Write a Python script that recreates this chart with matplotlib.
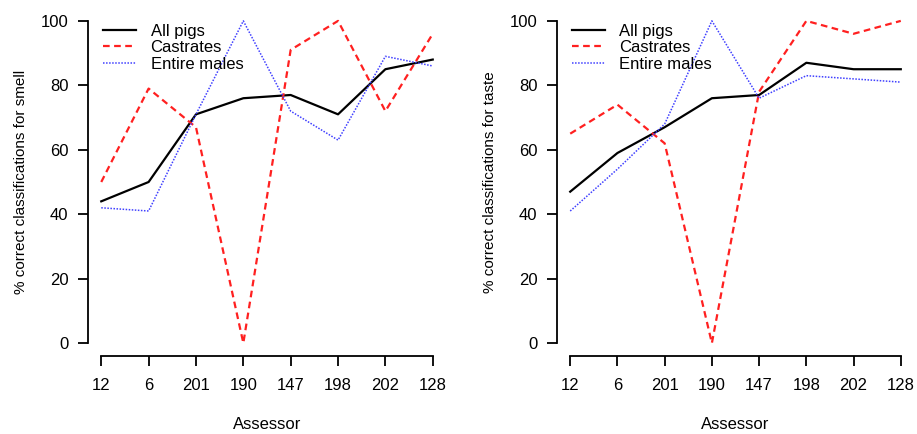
import matplotlib.pyplot as plt

plt.rcParams['font.family'] = ['Liberation Sans', 'DejaVu Sans']

assessors = ["12", "6", "201", "190", "147", "198", "202", "128"]

# smell
smell_all = [44, 50, 71, 76, 77, 71, 85, 88]
smell_castrates = [50, 79, 67, 0, 91, 100, 72, 96]
smell_entire = [42, 41, 71, 100, 72, 63, 89, 86]

# taste
taste_all = [47, 59, 67, 76, 77, 87, 85, 85]
taste_castrates = [65, 74, 62, 0, 78, 100, 96, 100]
taste_entire = [41, 54, 68, 100, 76, 83, 82, 81]


def draw_panel(ax, all_pigs, castrates, entire, ylabel):
  x = range(len(assessors))
  ax.plot(x, all_pigs, color="black", lw=1.6, label="All pigs")
  ax.plot(x, castrates, color="#ff2020", lw=1.6, ls=(0, (3, 2)), label="Castrates")
  ax.plot(x, entire, color="#4040ff", lw=1.1, ls=(0, (1, 1)), label="Entire males")

  ax.set_xlim(-0.28, len(assessors) - 1 + 0.28)
  ax.set_ylim(-4, 104)
  ax.set_xticks(list(x))
  ax.set_xticklabels(assessors)
  ax.set_yticks([0, 20, 40, 60, 80, 100])

  for side in ["top", "right"]:
    ax.spines[side].set_visible(False)
  ax.spines["left"].set_bounds(0, 100)
  ax.spines["bottom"].set_bounds(0, len(assessors) - 1)
  ax.spines["left"].set_linewidth(1.3)
  ax.spines["bottom"].set_linewidth(1.3)
  ax.tick_params(direction="out", length=7, width=1.3, labelsize=12, pad=7)
  ax.tick_params(axis="x", pad=9)

  ax.set_ylabel(ylabel, fontsize=11, labelpad=9)
  ax.set_xlabel("Assessor", fontsize=12, labelpad=17)

  ax.legend(loc="upper left", bbox_to_anchor=(0.042, 0.955), frameon=False,
            fontsize=12, handlelength=2.0, handletextpad=0.85, labelspacing=0.1,
            borderpad=0, borderaxespad=0)


fig = plt.figure(figsize=(9.17, 4.34), dpi=100)
ax1 = fig.add_axes([88 / 917, 1 - 356 / 434, (446 - 88) / 917, (356 - 8) / 434])
ax2 = fig.add_axes([557 / 917, 1 - 356 / 434, (914 - 557) / 917, (356 - 8) / 434])

draw_panel(ax1, smell_all, smell_castrates, smell_entire, "% correct classifications for smell")
draw_panel(ax2, taste_all, taste_castrates, taste_entire, "% correct classifications for taste")

fig.savefig("out.png", dpi=100)
